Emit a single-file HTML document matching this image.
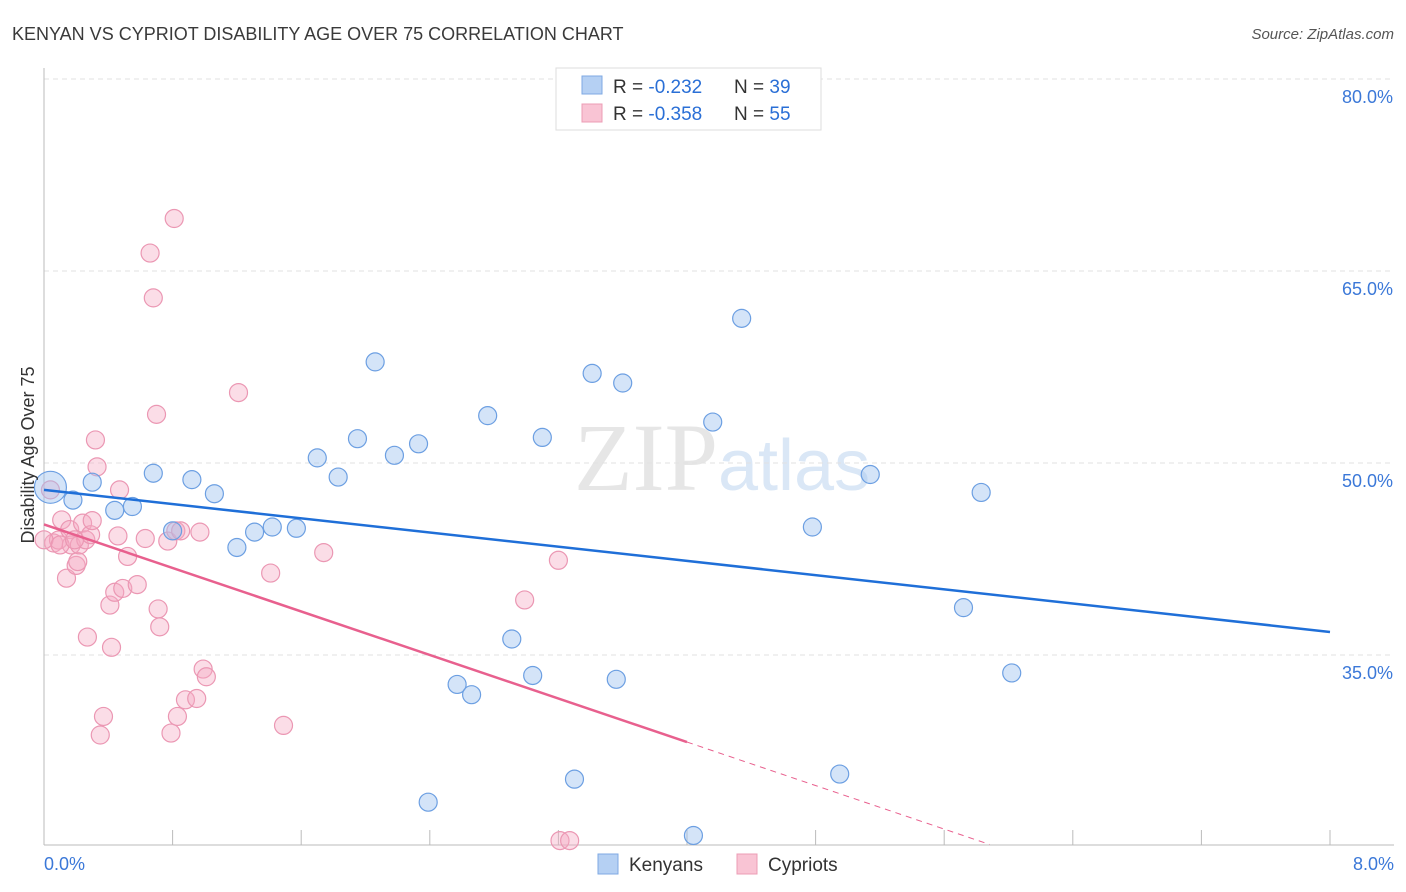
<!DOCTYPE html>
<html><head><meta charset="utf-8"><style>
body{margin:0;background:#fff;font-family:"Liberation Sans",sans-serif;}
svg{display:block}
</style></head><body>
<svg id="chart" width="1406" height="892" xmlns="http://www.w3.org/2000/svg">
<text x="12" y="40" font-size="18" fill="#3a3a3a">KENYAN VS CYPRIOT DISABILITY AGE OVER 75 CORRELATION CHART</text>
<text x="1394" y="39" font-size="15" fill="#555" font-style="italic" text-anchor="end">Source: ZipAtlas.com</text>
<text x="718" y="490" font-size="96" fill="#e6e6e6" text-anchor="end" font-family="Liberation Serif, serif">ZIP</text>
<text x="718" y="490" font-size="72" fill="#dae7f6">atlas</text>
<g id="grid"></g>
<g id="axes"></g>
<g id="pts"></g>
<g id="lines"></g>
<text transform="translate(34,455) rotate(-90)" font-size="18" fill="#333" text-anchor="middle">Disability Age Over 75</text>
<g>
<rect x="556" y="68" width="265" height="62" fill="#fff" stroke="#ddd"/>
<rect x="582" y="76" width="20" height="18" fill="#b5d0f3" stroke="#7fa9e3"/>
<text x="613" y="93" font-size="19" fill="#333">R = <tspan fill="#2a6fd6">-0.232</tspan></text>
<text x="734" y="93" font-size="19" fill="#333">N = <tspan fill="#2a6fd6">39</tspan></text>
<rect x="582" y="104" width="20" height="18" fill="#f9c4d4" stroke="#ec9cb5"/>
<text x="613" y="120" font-size="19" fill="#333">R = <tspan fill="#2a6fd6">-0.358</tspan></text>
<text x="734" y="120" font-size="19" fill="#333">N = <tspan fill="#2a6fd6">55</tspan></text>
</g>
<g>
<rect x="598" y="854" width="20" height="20" fill="#b5d0f3" stroke="#7fa9e3"/>
<text x="629" y="871" font-size="19" fill="#333">Kenyans</text>
<rect x="737" y="854" width="20" height="20" fill="#f9c4d4" stroke="#ec9cb5"/>
<text x="768" y="871" font-size="19" fill="#333">Cypriots</text>
</g>
</svg>
<script>
const kenX=[0.04,0.18,0.30,0.44,0.55,0.68,0.80,0.92,1.06,1.20,1.31,1.42,1.57,1.70,1.83,1.95,2.06,2.18,2.33,2.76,2.91,3.04,3.10,2.57,2.66,2.39,3.30,3.41,3.56,3.60,4.04,4.16,4.34,4.78,4.95,5.14,5.72,5.83,6.02];
const kenY=[48.1,47.1,48.5,46.3,46.6,49.2,44.7,48.7,47.6,43.4,44.6,45.0,44.9,50.4,48.9,51.9,57.9,50.6,51.5,53.7,36.25,33.4,52.0,32.7,31.9,23.5,25.3,57.0,33.1,56.25,20.9,53.2,61.3,45.0,25.7,49.1,38.7,47.7,33.6];
const cypX=[0.04,0.06,0.09,0.11,0.14,0.16,0.17,0.20,0.21,0.22,0.24,0.26,0.27,0.29,0.30,0.32,0.33,0.35,0.37,0.41,0.44,0.46,0.47,0.49,0.52,0.58,0.63,0.66,0.68,0.70,0.71,0.72,0.77,0.79,0.81,0.82,0.83,0.85,0.88,0.95,0.97,0.99,1.01,1.21,1.41,1.49,1.74,2.99,3.20,3.21,3.27,0.0,0.10,0.19,0.42];
const cypY=[47.9,43.75,43.98,45.55,41.0,44.8,43.6,42.0,42.3,43.6,45.3,44.0,36.4,44.4,45.5,51.8,49.7,28.75,30.2,38.9,39.9,44.3,47.9,40.2,42.7,40.5,44.1,66.4,62.9,53.8,38.6,37.2,43.9,28.9,69.1,44.7,30.2,44.7,31.5,31.6,44.6,33.9,33.3,55.5,41.4,29.5,43.0,39.3,42.4,20.5,20.5,44.0,43.6,44.0,35.6];
const yTicks=[35,50,65,80];
const kenTrend=[47.9,36.8];
const cypTrend=[45.2,-4.25];
const NS="http://www.w3.org/2000/svg";
const X=v=>44+v*160.75, Y=v=>79+(80-v)*12.8;
function mk(p,t,a){const e=document.createElementNS(NS,t);for(const k in a)e.setAttribute(k,a[k]);p.appendChild(e);return e;}
const g=document.getElementById('grid'),ax=document.getElementById('axes'),pts=document.getElementById('pts'),ln=document.getElementById('lines');
yTicks.forEach(t=>{const l=mk(g,'line',{x1:44,x2:1394,y1:Y(t),y2:Y(t),stroke:'#e2e2e2','stroke-dasharray':'5,4'});


const tx=mk(g,'text',{x:1393,y:Y(t)+24,'font-size':18,fill:'#3b78d8','text-anchor':'end'});tx.textContent=t.toFixed(1)+'%';

});
mk(ax,'line',{x1:44,x2:44,y1:68,y2:845,stroke:'#bbb'});
mk(ax,'line',{x1:44,x2:1394,y1:845,y2:845,stroke:'#bbb'});
for(let i=1;i<=10;i++){mk(ax,'line',{x1:X(i*0.8),x2:X(i*0.8),y1:830,y2:845,stroke:'#bbb'});}
[[0,'0.0%','start',44],[8,'8.0%','end',1394]].forEach(d=>{const t=mk(ax,'text',{x:d[3],y:870,'font-size':18,fill:'#3b78d8','text-anchor':d[2]});t.textContent=d[1];

});
cypX.forEach((x,i)=>{const c=mk(pts,'circle',{cx:X(x),cy:Y(cypY[i]),r:9,fill:'rgba(244,170,195,0.4)',stroke:'#eb97b3','stroke-width':1.2});

});
kenX.forEach((x,i)=>{const c=mk(pts,'circle',{cx:X(x),cy:Y(kenY[i]),r:i==0?16:9,fill:'rgba(160,195,240,0.45)',stroke:'#6c9fe2','stroke-width':1.2});

});
let l1=mk(ln,'line',{x1:X(0),y1:Y(kenTrend[0]),x2:X(8),y2:Y(kenTrend[1]),stroke:'#1f6fd8','stroke-width':2.5});


const py=x=>cypTrend[0]+cypTrend[1]*x;
let l2=mk(ln,'line',{x1:X(0),y1:Y(py(0)),x2:X(4),y2:Y(py(4)),stroke:'#e8608e','stroke-width':2.5});


const xe=(cypTrend[0]-20.2)/-cypTrend[1];
let l3=mk(ln,'line',{x1:X(4),y1:Y(py(4)),x2:X(xe),y2:Y(py(xe)),stroke:'#e8608e','stroke-width':1,'stroke-dasharray':'6,5'});


</script>
</body></html>
